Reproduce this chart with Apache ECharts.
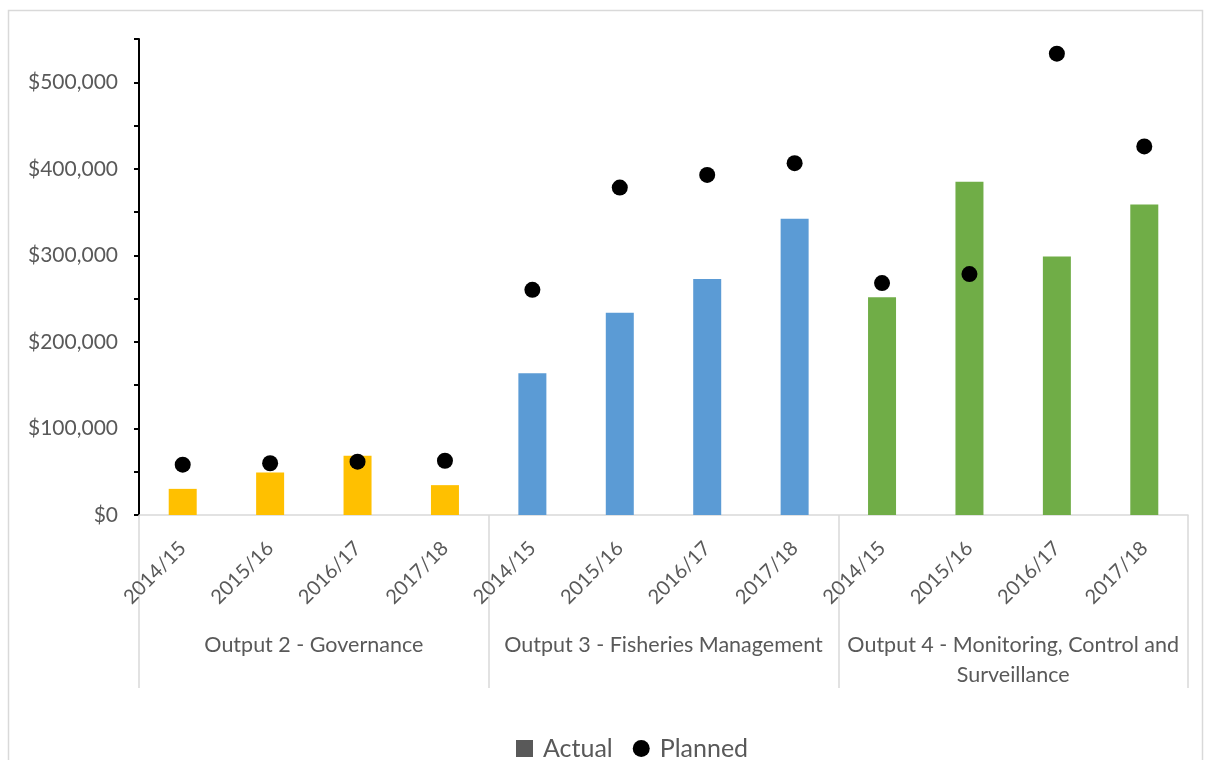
<!DOCTYPE html>
<html>
<head>
<meta charset="utf-8">
<script src="https://cdn.jsdelivr.net/npm/echarts@6/dist/echarts.min.js"></script>
<style>
html,body{margin:0;padding:0;background:#fff;}
#chart{width:1206px;height:760px;}
</style>
</head>
<body>
<div id="chart"></div>
<script>
var years = ['2014/15', '2015/16', '2016/17', '2017/18'];
var groups = ['Output 2 - Governance', 'Output 3 - Fisheries Management', 'Output 4 - Monitoring, Control and\nSurveillance'];
var groupColors = ['#FFC000', '#5B9BD5', '#70AD47'];
var actual = [30200, 49100, 68500, 34500, 163800, 233800, 272600, 342300, 251700, 385200, 298800, 358900];
var planned = [58100, 59800, 61600, 62700, 260200, 378300, 392900, 406500, 268000, 278400, 533100, 425900];
var yTicks = [0, 100000, 200000, 300000, 400000, 500000];

var categories = [];
var groupIndex = [];
groups.forEach(function (g, gi) {
  years.forEach(function (y) { categories.push(y); groupIndex.push(gi); });
});

var barData = actual.map(function (v, i) {
  return { value: v, itemStyle: { color: groupColors[groupIndex[i]] } };
});

var chart = echarts.init(document.getElementById('chart'), null, { renderer: 'canvas' });
var font = 'Lato, "Open Sans", sans-serif';
chart.setOption({
  animation: false,
  backgroundColor: '#fff',
  textStyle: { fontFamily: font },
  graphic: [{
    type: 'rect', shape: { x: 8.5, y: 10.5, width: 1194, height: 800 },
    style: { fill: 'none', stroke: '#d9d9d9', lineWidth: 1.5 }, z: -10
  }],
  grid: { left: 139, right: 18, top: 39, bottom: 245 },
  legend: {
    top: 731, left: 511, itemGap: 20, itemWidth: 17, itemHeight: 17,
    textStyle: { color: '#595959', fontSize: 25, fontFamily: font, padding: [0, 0, 0, 5] },
    data: [{ name: 'Actual', icon: 'path://M0,0H10V10H0Z', itemStyle: { color: '#595959' } },
           { name: 'Planned', icon: 'circle', itemStyle: { color: '#000' } }]
  },
  xAxis: [{
    type: 'category', data: categories, position: 'bottom',
    axisLine: { lineStyle: { color: '#d9d9d9', width: 1.5 } },
    axisTick: { show: false },
    axisLabel: { interval: 0, rotate: 45, margin: 30, color: '#595959', fontSize: 20, fontFamily: font }
  }, {
    type: 'category', data: groups, position: 'bottom', offset: 0,
    axisLine: { show: false },
    axisTick: { show: true, length: 173, lineStyle: { color: '#d9d9d9', width: 1.5 } },
    axisLabel: { interval: 0, margin: 115, color: '#595959', fontSize: 21.5, lineHeight: 30, fontFamily: font, align: 'center' }
  }],
  yAxis: {
    type: 'value', min: 0, max: 550000, interval: 50000,
    axisLine: { show: true, lineStyle: { color: '#000', width: 2 } },
    axisTick: { show: true, length: 5, lineStyle: { color: '#000', width: 2 } },
    splitLine: { show: false },
    axisLabel: {
      margin: 21, color: '#595959', fontSize: 21, fontFamily: font,
      formatter: function (v) {
        if (yTicks.indexOf(v) < 0) return '';
        return '$' + v.toLocaleString('en-US');
      }
    }
  },
  series: [{
    name: 'Actual', type: 'bar', xAxisIndex: 0, data: barData, barWidth: 28,
    itemStyle: { color: '#595959' }
  }, {
    name: 'Planned', type: 'scatter', xAxisIndex: 0, data: planned, symbol: 'circle', symbolSize: 16,
    itemStyle: { color: '#000', opacity: 1 }, z: 5
  }]
});
</script>
</body>
</html>
